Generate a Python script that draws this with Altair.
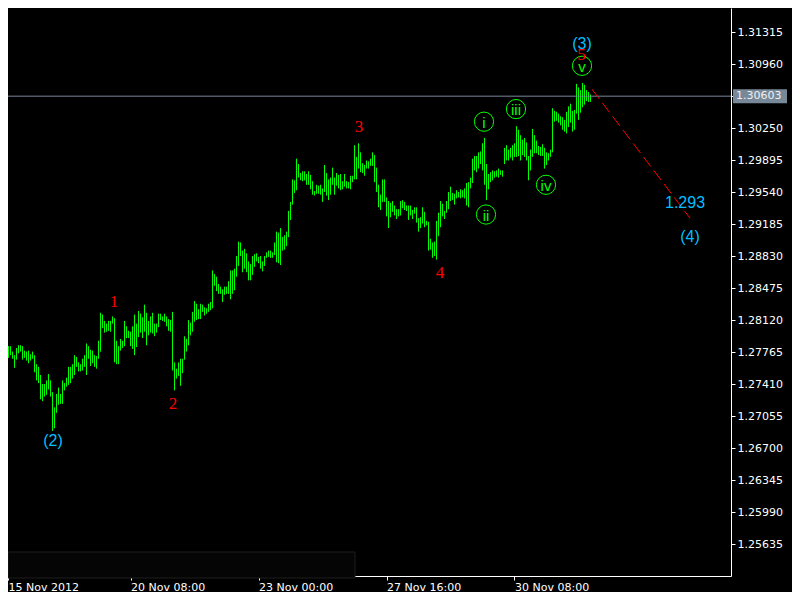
import altair as alt
import pandas as pd

# ---------------- data (EURUSD H1) ----------------
highs = [
    1.2802, 1.2792, 1.2783, 1.2783, 1.2777, 1.2773, 1.2781, 1.2784, 1.2784, 1.2783,
    1.2778, 1.2777, 1.2778, 1.2774, 1.2777, 1.2773, 1.2763, 1.2760, 1.2751, 1.2741,
    1.2741, 1.2745, 1.2752, 1.2745, 1.2732, 1.2715, 1.2730, 1.2737, 1.2730, 1.2745,
    1.2742, 1.2748, 1.2760, 1.2760, 1.2763, 1.2773, 1.2771, 1.2765, 1.2763, 1.2769,
    1.2773, 1.2786, 1.2783, 1.2779, 1.2778, 1.2773, 1.2772, 1.2789, 1.2820, 1.2818,
    1.2811, 1.2808, 1.2811, 1.2811, 1.2816, 1.2814, 1.2789, 1.2783, 1.2791, 1.2789,
    1.2811, 1.2805, 1.2800, 1.2799, 1.2805, 1.2818, 1.2808, 1.2822, 1.2819, 1.2815,
    1.2829, 1.2820, 1.2811, 1.2816, 1.2820, 1.2808, 1.2808, 1.2819, 1.2819, 1.2816,
    1.2819, 1.2816, 1.2813, 1.2812, 1.2821, 1.2765, 1.2758, 1.2765, 1.2769, 1.2769,
    1.2794, 1.2791, 1.2812, 1.2809, 1.2821, 1.2833, 1.2830, 1.2824, 1.2830, 1.2829,
    1.2826, 1.2825, 1.2830, 1.2832, 1.2867, 1.2863, 1.2860, 1.2852, 1.2849, 1.2846,
    1.2849, 1.2849, 1.2855, 1.2867, 1.2867, 1.2869, 1.2883, 1.2899, 1.2898, 1.2889,
    1.2891, 1.2886, 1.2877, 1.2874, 1.2883, 1.2885, 1.2886, 1.2882, 1.2883, 1.2877,
    1.2883, 1.2887, 1.2889, 1.2889, 1.2887, 1.2898, 1.2910, 1.2909, 1.2914, 1.2904,
    1.2906, 1.2910, 1.2933, 1.2943, 1.2968, 1.2967, 1.2991, 1.2985, 1.2975, 1.2977,
    1.2977, 1.2974, 1.2977, 1.2973, 1.2966, 1.2955, 1.2962, 1.2961, 1.2962, 1.2958,
    1.2984, 1.2975, 1.2968, 1.2970, 1.2981, 1.2970, 1.2975, 1.2973, 1.2974, 1.2966,
    1.2974, 1.2966, 1.2965, 1.2972, 1.2972, 1.3006, 1.2993, 1.3008, 1.2998, 1.2986,
    1.2984, 1.2989, 1.2988, 1.2991, 1.2998, 1.2995, 1.2981, 1.2962, 1.2951, 1.2968,
    1.2968, 1.2948, 1.2944, 1.2942, 1.2944, 1.2939, 1.2935, 1.2935, 1.2944, 1.2945,
    1.2943, 1.2939, 1.2939, 1.2939, 1.2934, 1.2937, 1.2937, 1.2925, 1.2926, 1.2937,
    1.2932, 1.2922, 1.2921, 1.2902, 1.2898, 1.2899, 1.2922, 1.2931, 1.2944, 1.2941,
    1.2933, 1.2944, 1.2954, 1.2960, 1.2953, 1.2952, 1.2956, 1.2954, 1.2957, 1.2956,
    1.2958, 1.2964, 1.2965, 1.2970, 1.2991, 1.2994, 1.2994, 1.2998, 1.2999, 1.3008,
    1.3014, 1.2985, 1.2974, 1.2976, 1.2978, 1.2977, 1.2978, 1.2980, 1.2978, 1.2978,
    1.3003, 1.3006, 1.3001, 1.3003, 1.3006, 1.3008, 1.3027, 1.3023, 1.3017, 1.3012,
    1.3014, 1.3009, 1.2994, 1.3001, 1.3024, 1.3017, 1.3011, 1.3005, 1.3004, 1.3007,
    1.3003, 1.2998, 1.2997, 1.3001, 1.3047, 1.3044, 1.3043, 1.3041, 1.3038, 1.3037,
    1.3034, 1.3043, 1.3049, 1.3052, 1.3044, 1.3045, 1.3074, 1.3070, 1.3067, 1.3075,
    1.3073, 1.3067, 1.3065, 1.3062,
]
lows = [
    1.2771, 1.2775, 1.2770, 1.2773, 1.2769, 1.2759, 1.2768, 1.2775, 1.2777, 1.2768,
    1.2770, 1.2767, 1.2764, 1.2767, 1.2769, 1.2754, 1.2745, 1.2742, 1.2724, 1.2722,
    1.2727, 1.2729, 1.2735, 1.2727, 1.2689, 1.2692, 1.2709, 1.2718, 1.2719, 1.2719,
    1.2734, 1.2738, 1.2740, 1.2742, 1.2747, 1.2751, 1.2760, 1.2755, 1.2755, 1.2756,
    1.2760, 1.2751, 1.2769, 1.2761, 1.2764, 1.2760, 1.2758, 1.2769, 1.2777, 1.2803,
    1.2798, 1.2799, 1.2800, 1.2799, 1.2808, 1.2765, 1.2763, 1.2763, 1.2778, 1.2781,
    1.2783, 1.2792, 1.2792, 1.2783, 1.2780, 1.2773, 1.2782, 1.2793, 1.2798, 1.2792,
    1.2799, 1.2784, 1.2795, 1.2798, 1.2797, 1.2794, 1.2798, 1.2804, 1.2812, 1.2811,
    1.2810, 1.2805, 1.2800, 1.2799, 1.2756, 1.2734, 1.2747, 1.2750, 1.2739, 1.2753,
    1.2768, 1.2777, 1.2784, 1.2795, 1.2799, 1.2810, 1.2812, 1.2813, 1.2813, 1.2821,
    1.2817, 1.2819, 1.2821, 1.2823, 1.2825, 1.2850, 1.2844, 1.2841, 1.2841, 1.2832,
    1.2840, 1.2841, 1.2841, 1.2835, 1.2841, 1.2845, 1.2860, 1.2872, 1.2883, 1.2865,
    1.2869, 1.2865, 1.2856, 1.2856, 1.2862, 1.2871, 1.2877, 1.2875, 1.2869, 1.2866,
    1.2872, 1.2881, 1.2882, 1.2881, 1.2881, 1.2884, 1.2876, 1.2875, 1.2873, 1.2889,
    1.2890, 1.2894, 1.2904, 1.2923, 1.2940, 1.2953, 1.2956, 1.2970, 1.2967, 1.2966,
    1.2967, 1.2962, 1.2962, 1.2957, 1.2951, 1.2950, 1.2952, 1.2952, 1.2951, 1.2943,
    1.2954, 1.2950, 1.2945, 1.2951, 1.2962, 1.2951, 1.2961, 1.2958, 1.2956, 1.2957,
    1.2960, 1.2958, 1.2958, 1.2957, 1.2965, 1.2968, 1.2968, 1.2980, 1.2976, 1.2975,
    1.2972, 1.2980, 1.2980, 1.2983, 1.2983, 1.2965, 1.2954, 1.2937, 1.2934, 1.2943,
    1.2943, 1.2927, 1.2914, 1.2926, 1.2932, 1.2928, 1.2924, 1.2927, 1.2928, 1.2936,
    1.2934, 1.2933, 1.2923, 1.2928, 1.2924, 1.2930, 1.2920, 1.2910, 1.2914, 1.2919,
    1.2915, 1.2917, 1.2889, 1.2890, 1.2881, 1.2883, 1.2879, 1.2905, 1.2915, 1.2927,
    1.2924, 1.2931, 1.2935, 1.2944, 1.2945, 1.2940, 1.2947, 1.2948, 1.2947, 1.2948,
    1.2947, 1.2939, 1.2937, 1.2958, 1.2964, 1.2978, 1.2976, 1.2980, 1.2985, 1.2978,
    1.2962, 1.2945, 1.2957, 1.2965, 1.2967, 1.2970, 1.2971, 1.2970, 1.2973, 1.2971,
    1.2985, 1.2989, 1.2989, 1.2992, 1.2989, 1.2993, 1.2993, 1.2994, 1.2989, 1.2995,
    1.2993, 1.2989, 1.2967, 1.2978, 1.2993, 1.2997, 1.2997, 1.2995, 1.2994, 1.2994,
    1.2980, 1.2984, 1.2989, 1.2993, 1.2998, 1.3032, 1.3033, 1.3031, 1.3028, 1.3023,
    1.3021, 1.3019, 1.3026, 1.3031, 1.3021, 1.3023, 1.3041, 1.3034, 1.3042, 1.3048,
    1.3051, 1.3055, 1.3054, 1.3054,
]
first_bar = 1  # bar number of the first bar (bar 0 is the first time label)

time_labels = ["15 Nov 2012", "20 Nov 08:00", "23 Nov 00:00", "27 Nov 16:00", "30 Nov 08:00"]
time_label_bars = [0, 64, 128, 192, 256]

price_ticks = [1.25635, 1.25990, 1.26345, 1.26700, 1.27055, 1.27410, 1.27765, 1.28120,
               1.28475, 1.28830, 1.29185, 1.29540, 1.29895, 1.30250, 1.30605, 1.30960,
               1.31315]
last_price = 1.30603

red_labels = ["1", "2", "3", "4", "5"]
red_bars = [55.75, 85.25, 178.25, 218.75, 289.5]
red_prices = [1.2832, 1.2719, 1.3026, 1.2864, 1.3106]

cyan_labels = ["(2)", "(3)", "(4)", "1.293"]
cyan_bars = [25.25, 289.75, 343.75, 341.25]
cyan_prices = [1.2678, 1.3118, 1.2904, 1.2942]

circle_labels = ["i", "ii", "iii", "iv", "v"]
circle_bars = [240.75, 241.75, 256.75, 271.75, 289.75]
circle_prices = [1.3032, 1.2929, 1.3046, 1.2962, 1.3094]

proj_bars = [294.75, 343.75]
proj_prices = [1.3068, 1.2925]

# ---------------- layout ----------------
X_MIN, X_MAX = 2.75, 364.25
Y_MIN, Y_MAX = 1.25280, 1.315813
PLOT_W, PLOT_H = 723, 568
BG = "#000000"
BAR_GREEN = "#00ff00"
AXIS_FONT = "DejaVu Sans"

bars = pd.DataFrame({
    "bar": list(range(first_bar, first_bar + len(highs))),
    "high": highs,
    "low": lows,
})

x_vals = [max(b, X_MIN) for b in time_label_bars]
expr = "''"
for v, lab in reversed(list(zip(x_vals, time_labels))):
    expr = f"(abs(datum.value - {v}) < 0.5 ? '{lab}' : {expr})"

x_scale = alt.Scale(domain=[X_MIN, X_MAX], nice=False, zero=False)
y_scale = alt.Scale(domain=[Y_MIN, Y_MAX], nice=False, zero=False)

x_axis = alt.Axis(values=x_vals, labelExpr=expr, title=None, grid=False,
                  domainColor="white", tickColor="white", tickSize=4,
                  labelColor="white", labelFont=AXIS_FONT, labelFontSize=11,
                  labelAlign="left", labelBaseline="top", labelPadding=1,
                  labelOverlap=False, labelFlush=False, labelBound=False)
y_axis = alt.Axis(values=price_ticks, format=".5f", orient="right", title=None,
                  grid=False, domainColor="white", tickColor="white", tickSize=4,
                  labelColor="white", labelFont=AXIS_FONT, labelFontSize=11,
                  labelPadding=2, labelOverlap=False, labelFlush=False,
                  labelBound=False)


def X(field):
    return alt.X(field, scale=x_scale, axis=x_axis)


def Y(field):
    return alt.Y(field, scale=y_scale, axis=y_axis)


bar_layer = alt.Chart(bars).mark_rule(color=BAR_GREEN, strokeWidth=1).encode(
    x=X("bar:Q"), y=Y("low:Q"), y2="high:Q",
)

price_df = pd.DataFrame({"price": [last_price], "label": [f"{last_price:.5f}"]})
price_line = alt.Chart(price_df).mark_rule(color="#778899", strokeWidth=1).encode(
    y=Y("price:Q"), x=alt.value(0), x2=alt.value(PLOT_W),
)

proj_df = pd.DataFrame({"b0": [proj_bars[0]], "b1": [proj_bars[1]],
                        "p0": [proj_prices[0]], "p1": [proj_prices[1]]})
proj_line = alt.Chart(proj_df).mark_rule(color="#ff0000", strokeWidth=1,
                                         strokeDash=[12, 5]).encode(
    x=X("b0:Q"), x2="b1:Q", y=Y("p0:Q"), y2="p1:Q",
)

circ_df = pd.DataFrame({"bar": circle_bars, "price": circle_prices, "label": circle_labels})
circles = alt.Chart(circ_df).mark_point(shape="circle", size=370, filled=False,
                                        color=BAR_GREEN, strokeWidth=1, opacity=1).encode(
    x=X("bar:Q"), y=Y("price:Q"),
)
circ_text = alt.Chart(circ_df).mark_text(color=BAR_GREEN, font="Liberation Sans",
                                         fontSize=15, baseline="middle", align="center",
                                         dy=1).encode(
    x=X("bar:Q"), y=Y("price:Q"), text="label:N",
)

red_df = pd.DataFrame({"bar": red_bars, "price": red_prices, "label": red_labels})
red_text = alt.Chart(red_df).mark_text(color="#ff0000", font="Liberation Serif",
                                       fontSize=17, baseline="middle", align="center").encode(
    x=X("bar:Q"), y=Y("price:Q"), text="label:N",
)

cyan_df = pd.DataFrame({"bar": cyan_bars, "price": cyan_prices, "label": cyan_labels})
cyan_text = alt.Chart(cyan_df).mark_text(color="#00bfff", font="Liberation Sans",
                                         fontSize=16, baseline="middle", align="center").encode(
    x=X("bar:Q"), y=Y("price:Q"), text="label:N",
)

panel = alt.Chart(price_df).mark_rect(fill="#050505", stroke="#1e1e1e",
                                      strokeWidth=1).encode(
    x=alt.value(0), x2=alt.value(347), y=alt.value(544), y2=alt.value(570),
)

price_box = alt.Chart(price_df).mark_rect(color="#778899", yOffset=-7,
                                          y2Offset=7).encode(
    x=alt.value(PLOT_W + 2), x2=alt.value(PLOT_W + 56),
    y=Y("price:Q"), y2="price:Q",
)
price_text = alt.Chart(price_df).mark_text(color="#f0f0f0", font=AXIS_FONT, fontSize=11,
                                           align="left", baseline="middle").encode(
    x=alt.value(PLOT_W + 5), y=Y("price:Q"), text="label:N",
)

chart = alt.layer(
    bar_layer, price_line, proj_line, circles, circ_text, red_text, cyan_text,
    panel, price_box, price_text,
).properties(
    width=PLOT_W, height=PLOT_H,
    background=BG,
    padding={"left": 0, "top": 0, "right": 61, "bottom": 16},
    autosize=alt.AutoSizeParams(type="none"),
).configure_view(stroke=None, fill=BG).configure_axis(labelOverlap=False)

chart.save("out.html", embed_options={"renderer": "svg", "actions": False})
